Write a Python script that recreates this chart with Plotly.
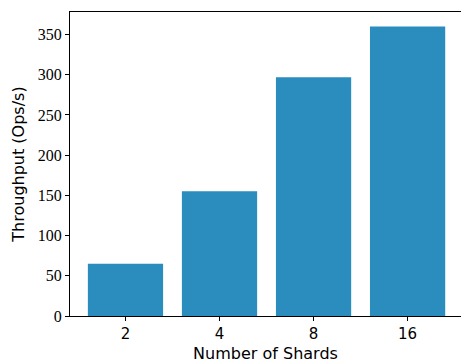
import plotly.graph_objects as go

categories = ["2", "4", "8", "16"]
throughput = [65, 155, 297, 360]
y_ticks = [0, 50, 100, 150, 200, 250, 300, 350]

fig = go.Figure()
fig.add_trace(go.Bar(
    x=categories, y=throughput, width=0.8,
    marker=dict(color="#2b8cbe", line=dict(width=0)),
))

fig.update_layout(
    width=461, height=364,
    margin=dict(l=70, r=0, t=12, b=48, autoexpand=False),
    plot_bgcolor="white", paper_bgcolor="white",
    showlegend=False,
    bargap=0.2,
)
fig.update_xaxes(
    type="category", range=[-0.59, 3.568], automargin=False,
    showline=True, linecolor="black", linewidth=1, mirror=True,
    ticks="outside", ticklen=4, tickcolor="black", showgrid=False,
    tickfont=dict(family="DejaVu Sans", size=15, color="black"),
    title=dict(text="Number of Shards", font=dict(family="DejaVu Sans", size=16, color="black"), standoff=5),
)
fig.update_yaxes(
    range=[0, 378], tickvals=y_ticks, automargin=False,
    showline=True, linecolor="black", linewidth=1, mirror=False,
    ticks="outside", ticklen=4, tickcolor="black", showgrid=False, zeroline=False,
    tickfont=dict(family="Liberation Serif", size=16, color="black"),
    title=dict(text="Throughput (Ops/s)", font=dict(family="DejaVu Sans", size=16, color="black"), standoff=9),
)

fig.write_html(
    "out.html",
    config={"displayModeBar": False, "staticPlot": True},
    post_script="document.body.style.margin='0';document.body.style.overflow='hidden';",
)
